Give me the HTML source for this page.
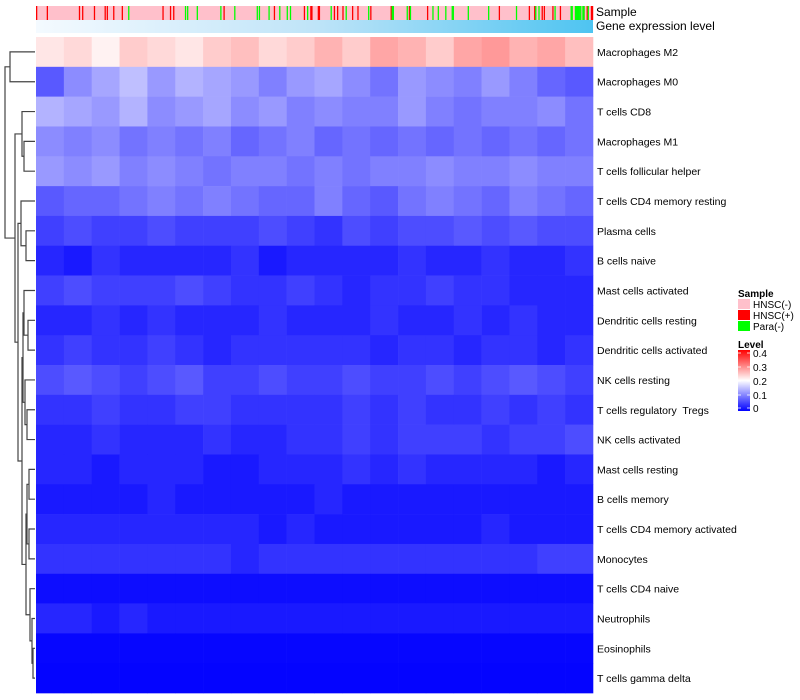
<!DOCTYPE html>
<html><head><meta charset="utf-8"><style>
body{margin:0;background:#fff;}
svg{display:block;font-family:"Liberation Sans",sans-serif;}
#labels text{white-space:pre;}
</style></head><body>
<svg id="chart" width="800" height="700" viewBox="0 0 800 700">
<defs>
<linearGradient id="geneGrad" x1="0" x2="1" y1="0" y2="0">
<stop offset="0" stop-color="#f4faff"/><stop offset="0.5" stop-color="#bfe4f8"/><stop offset="1" stop-color="#4ec4f1"/>
</linearGradient>
<linearGradient id="levelGrad" x1="0" x2="0" y1="1" y2="0">
<stop offset="0" stop-color="#0000ff"/><stop offset="0.5" stop-color="#ffffff"/><stop offset="1" stop-color="#ff0000"/>
</linearGradient>
</defs>
<g id="dendro"></g>
<g id="sampleBar"></g>
<rect x="36" y="20" width="557" height="13" fill="url(#geneGrad)"/>
<text x="596" y="16" font-size="12">Sample</text>
<text x="596" y="30" font-size="12">Gene expression level</text>
<g id="cells"></g>
<g id="labels"></g>
<g>
<text x="738" y="297" font-size="10" font-weight="bold">Sample</text>
<rect x="738" y="299" width="12" height="10" fill="#ffc0cb"/>
<text x="753" y="308" font-size="10">HNSC(-)</text>
<rect x="738" y="310" width="12" height="10" fill="#ff0000"/>
<text x="753" y="319" font-size="10">HNSC(+)</text>
<rect x="738" y="321" width="12" height="10" fill="#00ff00"/>
<text x="753" y="330" font-size="10">Para(-)</text>
<text x="738" y="348" font-size="10" font-weight="bold">Level</text>
<rect x="738" y="350" width="12" height="61" fill="url(#levelGrad)"/>
<g stroke="#fff" stroke-width="0.8">
<line x1="738" x2="741" y1="353" y2="353"/><line x1="747" x2="750" y1="353" y2="353"/>
<line x1="738" x2="741" y1="367" y2="367"/><line x1="747" x2="750" y1="367" y2="367"/>
<line x1="738" x2="741" y1="381" y2="381"/><line x1="747" x2="750" y1="381" y2="381"/>
<line x1="738" x2="741" y1="395" y2="395"/><line x1="747" x2="750" y1="395" y2="395"/>
<line x1="738" x2="741" y1="408" y2="408"/><line x1="747" x2="750" y1="408" y2="408"/>
</g>
<text x="753" y="357" font-size="10">0.4</text>
<text x="753" y="371" font-size="10">0.3</text>
<text x="753" y="385" font-size="10">0.2</text>
<text x="753" y="399" font-size="10">0.1</text>
<text x="753" y="412" font-size="10">0</text>
</g>
</svg>
<script>
const rowNames = ["Macrophages M2","Macrophages M0","T cells CD8","Macrophages M1","T cells follicular helper","T cells CD4 memory resting","Plasma cells","B cells naive","Mast cells activated","Dendritic cells resting","Dendritic cells activated","NK cells resting","T cells regulatory  Tregs","NK cells activated","Mast cells resting","B cells memory","T cells CD4 memory activated","Monocytes","T cells CD4 naive","Neutrophils","Eosinophils","T cells gamma delta"];
const nSamples = 520;
const redSamples = [0,10,40,43,54,64,66,72,80,118,125,128,175,222,250,256,257,263,264,278,281,286,295,300,312,331,348,365,432,460,465,472,474,482,489,504,511,514,518,519];
const greenSamples = [86,139,141,150,172,185,206,208,217,227,234,237,253,275,289,310,332,333,346,349,370,375,382,388,389,403,422,448,466,469,484,499,500,503,504,505,506,507,508,510,511,515];
const vM2 = [0.22,0.23,0.21,0.24,0.23,0.22,0.24,0.25,0.23,0.24,0.26,0.24,0.27,0.26,0.24,0.27,0.28,0.26,0.27,0.25];
const vM0 = [0.07,0.11,0.13,0.15,0.12,0.14,0.13,0.12,0.1,0.12,0.13,0.11,0.09,0.12,0.11,0.1,0.12,0.1,0.08,0.07];
const vCD8 = [0.14,0.13,0.12,0.14,0.11,0.12,0.13,0.11,0.12,0.1,0.11,0.1,0.1,0.12,0.1,0.09,0.1,0.1,0.11,0.09];
const vM1 = [0.11,0.1,0.11,0.09,0.1,0.09,0.1,0.08,0.09,0.1,0.08,0.09,0.08,0.09,0.08,0.09,0.08,0.09,0.08,0.09];
const vTFH = [0.12,0.11,0.12,0.1,0.11,0.1,0.09,0.1,0.1,0.09,0.1,0.09,0.1,0.1,0.11,0.1,0.1,0.11,0.1,0.1];
const vCD4MR = [0.07,0.08,0.08,0.09,0.1,0.09,0.1,0.09,0.08,0.08,0.1,0.08,0.07,0.09,0.1,0.09,0.08,0.1,0.09,0.08];
const vPlasma = [0.05,0.06,0.05,0.05,0.06,0.05,0.05,0.05,0.06,0.05,0.04,0.06,0.05,0.06,0.06,0.07,0.06,0.07,0.06,0.06];
const vBNaive = [0.03,0.02,0.04,0.03,0.03,0.03,0.03,0.04,0.02,0.03,0.03,0.03,0.03,0.04,0.03,0.03,0.04,0.03,0.03,0.04];
const vMastAct = [0.05,0.06,0.05,0.05,0.05,0.06,0.05,0.04,0.04,0.05,0.04,0.03,0.04,0.04,0.05,0.04,0.04,0.03,0.03,0.03];
const vDCRest = [0.03,0.03,0.04,0.03,0.04,0.03,0.03,0.03,0.04,0.03,0.03,0.03,0.04,0.03,0.03,0.04,0.03,0.04,0.03,0.03];
const vDCAct = [0.04,0.05,0.04,0.04,0.05,0.04,0.03,0.04,0.04,0.04,0.04,0.04,0.03,0.04,0.04,0.03,0.04,0.04,0.03,0.04];
const vNKRest = [0.06,0.07,0.06,0.05,0.06,0.07,0.05,0.05,0.06,0.05,0.05,0.06,0.05,0.05,0.06,0.05,0.06,0.07,0.06,0.05];
const vTreg = [0.04,0.04,0.05,0.04,0.04,0.05,0.05,0.04,0.04,0.04,0.04,0.05,0.04,0.05,0.04,0.04,0.05,0.04,0.05,0.04];
const vNKAct = [0.03,0.03,0.04,0.03,0.03,0.03,0.04,0.03,0.03,0.04,0.04,0.05,0.04,0.05,0.05,0.05,0.04,0.05,0.05,0.06];
const vMastRest = [0.03,0.03,0.02,0.03,0.03,0.03,0.02,0.02,0.03,0.03,0.03,0.04,0.03,0.04,0.03,0.03,0.03,0.03,0.02,0.03];
const vBMem = [0.02,0.02,0.02,0.02,0.03,0.02,0.02,0.02,0.02,0.02,0.03,0.02,0.02,0.02,0.02,0.02,0.02,0.02,0.02,0.02];
const vCD4MA = [0.03,0.03,0.03,0.03,0.03,0.03,0.03,0.03,0.02,0.03,0.02,0.02,0.02,0.02,0.02,0.02,0.03,0.02,0.02,0.02];
const vMono = [0.04,0.04,0.04,0.04,0.04,0.04,0.04,0.03,0.04,0.04,0.04,0.04,0.04,0.04,0.04,0.04,0.04,0.04,0.05,0.05];
const vCD4N = [0.01,0.01,0.01,0.01,0.01,0.01,0.01,0.01,0.01,0.01,0.01,0.01,0.01,0.01,0.01,0.01,0.01,0.01,0.01,0.01];
const vNeut = [0.03,0.03,0.02,0.03,0.02,0.02,0.02,0.02,0.02,0.02,0.02,0.02,0.02,0.02,0.02,0.02,0.02,0.02,0.02,0.02];
const vEos = [0.005,0.005,0.005,0.005,0.005,0.005,0.005,0.005,0.005,0.005,0.005,0.005,0.005,0.005,0.005,0.005,0.005,0.005,0.005,0.005];
const vGD = [0.003,0.003,0.003,0.003,0.003,0.003,0.003,0.003,0.003,0.003,0.003,0.003,0.003,0.003,0.003,0.003,0.003,0.003,0.003,0.003];
const rowValues = [vM2,vM0,vCD8,vM1,vTFH,vCD4MR,vPlasma,vBNaive,vMastAct,vDCRest,vDCAct,vNKRest,vTreg,vNKAct,vMastRest,vBMem,vCD4MA,vMono,vCD4N,vNeut,vEos,vGD];
const merges = [[0,1,10],[3,4,24],[2,23,22],[6,7,26],[5,25,21],[9,10,28],[8,27,24],[12,13,27],[11,29,25],[28,30,23],[14,15,29],[16,17,29],[32,33,27],[20,21,33],[19,35,32],[18,36,30],[34,37,26],[31,38,22],[26,39,18],[24,40,15],[22,41,5]];

const NS="http://www.w3.org/2000/svg";
const X0=36, X1=593, Y0=37, RH=29.82;
const xScale = s => X0 + (X1-X0)*s/nSamples;
const yRow = i => Y0 + RH*i;
function colorOf(v){
  const t=Math.max(0,Math.min(0.4,v));
  let r,g,b;
  if(t<=0.2){const f=t/0.2;r=Math.round(255*f);g=r;b=255;}
  else{const f=(t-0.2)/0.2;r=255;g=Math.round(255*(1-f));b=g;}
  return `rgb(${r},${g},${b})`;
}
function mk(tag,attrs,parent){const e=document.createElementNS(NS,tag);for(const k in attrs)e.setAttribute(k,attrs[k]);parent.appendChild(e);return e;}

const sb=document.getElementById('sampleBar');
const bg=mk('rect',{x:X0,y:6,width:X1-X0,height:14,fill:'#ffc0cb'},sb);


redSamples.forEach(s=>{
  const r=mk('rect',{x:xScale(s),y:6,width:(X1-X0)/nSamples*1.2,height:14,fill:'#ff0000'},sb);
  
  
});
greenSamples.forEach(s=>{
  const r=mk('rect',{x:xScale(s),y:6,width:(X1-X0)/nSamples*1.2,height:14,fill:'#00ff00'},sb);
  
  
});

const cells=document.getElementById('cells');
const labels=document.getElementById('labels');
rowValues.forEach((vals,i)=>{
  const nb=vals.length, per=nSamples/nb;
  vals.forEach((v,j)=>{
    const x=xScale(j*per), w=xScale((j+1)*per)-x;
    const r=mk('rect',{x:x,y:yRow(i),width:w+0.3,height:RH+0.3,fill:colorOf(v)},cells);
    
    
  });
  const t=mk('text',{x:597,y:yRow(i)+RH/2+4,'font-size':10.5},labels);
  t.textContent=rowNames[i];
  
  
});

const dg=document.getElementById('dendro');
const pos={};
for(let i=0;i<rowNames.length;i++)pos[i]={y:yRow(i)+RH/2,x:X0-1};
merges.forEach((m,k)=>{
  const a=pos[m[0]], b=pos[m[1]], hx=m[2];
  const p=mk('path',{d:`M${a.x},${a.y}H${hx}V${b.y}H${b.x}`,fill:'none',stroke:'#444',"stroke-width":1.2},dg);
  
  
  pos[rowNames.length+k]={y:(a.y+b.y)/2,x:hx};
});
</script>
</body></html>
